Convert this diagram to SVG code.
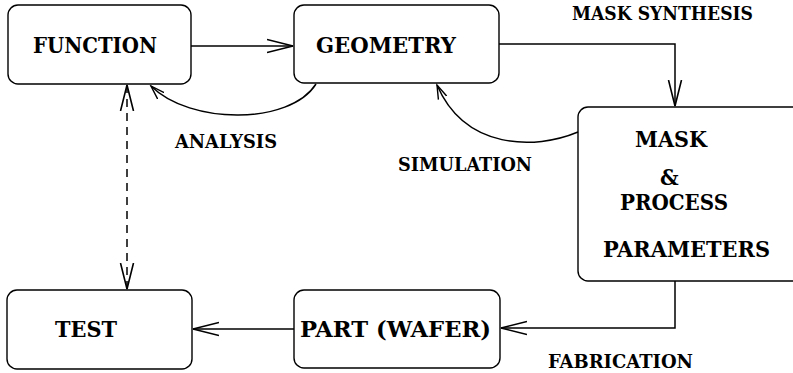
<svg xmlns="http://www.w3.org/2000/svg" width="793" height="373" viewBox="0 0 793 373">
<style>
.box{fill:#fff;stroke:#000;stroke-width:1.4}
text{font-family:'DejaVu Serif','Liberation Serif',serif;font-weight:bold;font-stretch:condensed;fill:#000}
.nt{font-size:23px}
.lb{font-size:19px}
.cn{fill:none;stroke:#000;stroke-width:1.5}
</style>
<defs>
<marker id="arr" markerUnits="userSpaceOnUse" markerWidth="30" markerHeight="20" refX="26" refY="10" orient="auto-start-reverse">
<path d="M0,3.5 L26,10 L0,16.5" fill="none" stroke="#000" stroke-width="1.6"/>
</marker>
<marker id="sarr" markerUnits="userSpaceOnUse" markerWidth="16" markerHeight="12" refX="14" refY="6" orient="auto">
<path d="M0,1.5 L14,6 L0,10.5" fill="none" stroke="#000" stroke-width="1.4"/>
</marker>
</defs>
<rect width="793" height="373" fill="#fff"/>
<g id="function"><rect class="box" x="8" y="5" width="183" height="79" rx="10"/><text class="nt" x="33" y="53" textLength="124" lengthAdjust="spacingAndGlyphs">FUNCTION</text></g>
<g id="geometry"><rect class="box" x="294" y="5" width="205" height="78" rx="10"/><text class="nt" x="316" y="53" textLength="140" lengthAdjust="spacingAndGlyphs">GEOMETRY</text></g>
<g id="mask"><rect class="box" x="578" y="107" width="240" height="174" rx="10"/>
<text class="nt" x="635" y="147" textLength="72" lengthAdjust="spacingAndGlyphs">MASK</text>
<text class="nt" x="660" y="185">&amp;</text>
<text class="nt" x="620" y="210" textLength="108" lengthAdjust="spacingAndGlyphs">PROCESS</text>
<text class="nt" x="603" y="257" textLength="167" lengthAdjust="spacingAndGlyphs">PARAMETERS</text></g>
<g id="test"><rect class="box" x="7" y="290" width="185" height="79" rx="10"/><text class="nt" x="55" y="337" textLength="62" lengthAdjust="spacingAndGlyphs">TEST</text></g>
<g id="part"><rect class="box" x="294" y="290" width="206" height="78" rx="10"/><text class="nt" x="300" y="337" textLength="191" lengthAdjust="spacingAndGlyphs">PART (WAFER)</text></g>
<g id="connectors">
<path class="cn" d="M191,46 H293" marker-end="url(#arr)"/>
<path class="cn" d="M499,44 H675 V106" marker-end="url(#arr)"/>
<path class="cn" d="M675,281 V328 H501" marker-end="url(#arr)"/>
<path class="cn" d="M294,329 H193" marker-end="url(#arr)"/>
<path class="cn" d="M127,85 V289" stroke-dasharray="8 6" marker-start="url(#arr)" marker-end="url(#arr)"/>
<path class="cn" d="M316,84 C290,125 190,125 151,86" marker-end="url(#sarr)"/>
<path class="cn" d="M578,132 C535,150 465,150 437,85" marker-end="url(#sarr)"/>
</g>
<g id="labels">
<text class="lb" x="572" y="20" textLength="181" lengthAdjust="spacingAndGlyphs">MASK SYNTHESIS</text>
<text class="lb" x="175" y="148" textLength="102" lengthAdjust="spacingAndGlyphs">ANALYSIS</text>
<text class="lb" x="398" y="171" textLength="134" lengthAdjust="spacingAndGlyphs">SIMULATION</text>
<text class="lb" x="548" y="368" textLength="145" lengthAdjust="spacingAndGlyphs">FABRICATION</text>
</g>
</svg>
